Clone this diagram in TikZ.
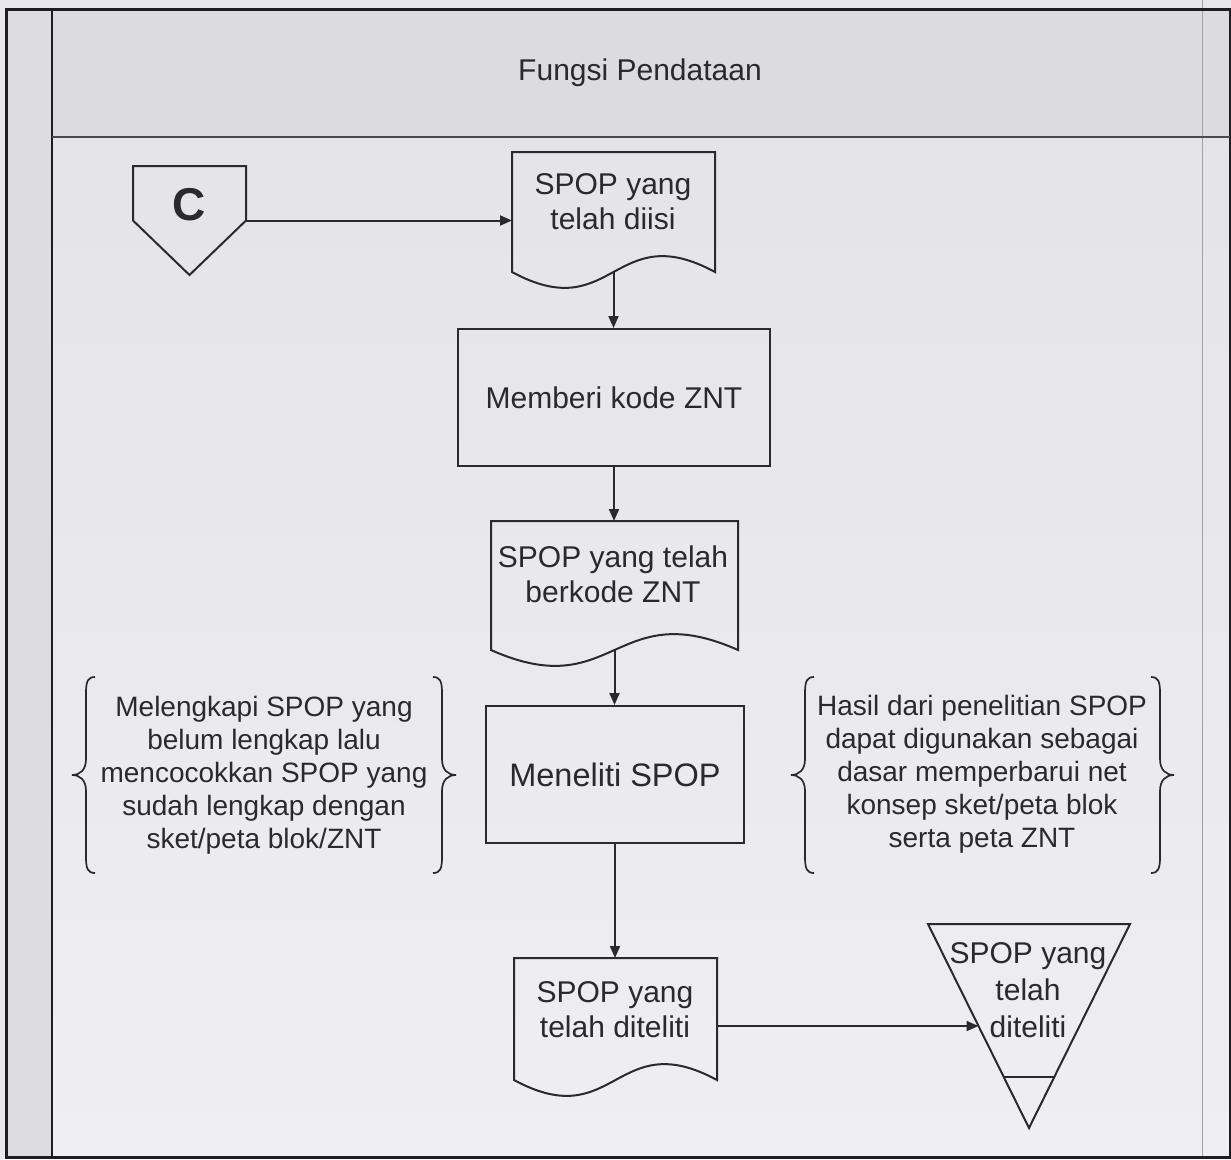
\documentclass[tikz,border=0pt]{standalone}
\usepackage{fontspec}
\setmainfont{Liberation Sans}
\usetikzlibrary{arrows.meta,calc}

\definecolor{pagec}{HTML}{E8E7EA}
\definecolor{bodytop}{HTML}{E3E2E5}
\definecolor{bodybot}{HTML}{EFEEF1}
\definecolor{headc}{HTML}{DCDBDE}
\definecolor{stripc}{HTML}{DDDCDF}
\definecolor{framec}{HTML}{1E1E20}
\definecolor{inkc}{HTML}{2A2A2C}
\definecolor{faintc}{HTML}{A2A1A4}

% wavy bottom edge of a document symbol, drawn around a hollow node
\newcommand\docwave[1]{%
  \draw[outline] (#1.south west) -- (#1.north west) -- (#1.north east) -- (#1.south east)
    .. controls ($(#1.south)+(0,-55)$) and ($(#1.south)+(0,55)$) .. (#1.south west) -- cycle;}

% curly bracket: x of the stem, top y, bottom y, direction (1 = opening, -1 = closing)
\newcommand\curlymark[4]{%
  \pgfmathsetmacro\ymid{(#2+#3)/2}%
  \draw[brk] ({#1+(#4)*9},#2) .. controls ({#1+(#4)*2},#2) and (#1,{#2+4}) .. (#1,{#2+16})
    -- (#1,{\ymid-16}) .. controls (#1,{\ymid-5}) and ({#1-(#4)*6},\ymid) .. ({#1-(#4)*14},\ymid)
    .. controls ({#1-(#4)*6},\ymid) and (#1,{\ymid+5}) .. (#1,{\ymid+16})
    -- (#1,{#3-16}) .. controls (#1,{#3-4}) and ({#1+(#4)*2},#3) .. ({#1+(#4)*9},#3);}

\tikzset{
  lbl/.style={font=\fontsize{30}{35}\selectfont, align=center, text=inkc, inner sep=0pt},
  note/.style={font=\fontsize{28}{33}\selectfont, align=center, text=inkc, inner sep=0pt},
  outline/.style={draw=inkc, line width=2pt, line join=miter},
  brk/.style={draw=inkc, line width=1.7pt},
  flow/.style={draw=inkc, line width=2pt, -{Triangle[length=12pt,width=10pt]}},
  hollow/.style={inner sep=0pt, outer sep=0pt, draw=none},
}

\begin{document}
\begin{tikzpicture}[x=1pt,y=-1pt]
\useasboundingbox (0,0) rectangle (1231,1159);

% sheet, lanes and frame
\fill[pagec] (0,0) rectangle (1231,1159);
\shade[top color=bodytop, bottom color=bodybot] (6,9) rectangle (1230,1157);
\fill[headc] (52,9) rectangle (1230,137);
\fill[stripc] (6,9) rectangle (52,1157);
\draw[faintc, line width=1pt] (1202,0) -- (1202,1159);
\draw[framec, line width=3pt] (6,9) rectangle (1230,1157);
\draw[framec, line width=2.5pt] (52,9) -- (52,1157);
\draw[inkc!85!white, line width=2.5pt] (52,137) -- (1230,137);

\node[lbl] (hd) at (640,73) {Fungsi Pendataan};

% off-page connector C
\node[hollow, minimum width=113pt, minimum height=109pt] (c) at (189.5,220.5) {};
\draw[outline] (c.north west) -- (c.north east) -- (c.east) -- (c.south) -- (c.west) -- cycle;
\node[font=\fontsize{46}{46}\bfseries\selectfont, text=inkc, inner sep=0pt] (ct) at (189.5,205) {C};

% documents and processes
\node[hollow, minimum width=203pt, minimum height=120pt] (d1) at (613.5,212) {};
\docwave{d1}
\node[lbl] (d1t) at (613,201.5) {SPOP yang\\telah diisi};

\node[outline, lbl, minimum width=312pt, minimum height=137pt] (p1) at (614,397.5) {Memberi kode ZNT};

\node[hollow, minimum width=247pt, minimum height=129pt] (d2) at (614.5,585.5) {};
\docwave{d2}
\node[lbl] (d2t) at (613,574) {SPOP yang telah\\berkode ZNT};

\node[outline, lbl, font=\fontsize{32.5}{38}\selectfont, minimum width=258pt, minimum height=137pt] (p2) at (615,774.5) {Meneliti SPOP};

\node[hollow, minimum width=203pt, minimum height=122pt] (d3) at (615.5,1019) {};
\docwave{d3}
\node[lbl] (d3t) at (615,1009.5) {SPOP yang\\telah diteliti};

% archive (file) triangle
\node[hollow, minimum width=202pt, minimum height=204pt] (t) at (1029,1026) {};
\draw[outline] (t.north west) -- (t.north east) -- (t.south) -- cycle;
\draw[outline] ($(t.north west)!0.75!(t.south)$) -- ($(t.north east)!0.75!(t.south)$);
\node[lbl, font=\fontsize{30}{37}\selectfont] (tt) at (1028,990) {SPOP yang\\telah\\diteliti};
\coordinate (tl) at ($(t.north west)!0.5!(t.south)$);

% side notes
\node[note] (n1) at (264,775) {Melengkapi SPOP yang\\belum lengkap lalu\\mencocokkan SPOP yang\\sudah lengkap dengan\\sket/peta blok/ZNT};
\curlymark{86}{677}{873}{1}
\curlymark{442}{677}{873}{-1}

\node[note] (n2) at (982,774) {Hasil dari penelitian SPOP\\dapat digunakan sebagai\\dasar memperbarui net\\konsep sket/peta blok\\serta peta ZNT};
\curlymark{805}{677}{873}{1}
\curlymark{1160}{677}{873}{-1}

% flow
\draw[flow] (c.east) -- (c.east -| d1.west);
\draw[flow] (d1.south) -- (d1.south |- p1.north);
\draw[flow] (p1.south) -- (p1.south |- d2.north);
\draw[flow] (d2.south) -- (d2.south |- p2.north);
\draw[flow] (p2.south) -- (p2.south |- d3.north);
\draw[flow] (tl -| d3.east) -- (tl);
\end{tikzpicture}
\end{document}
